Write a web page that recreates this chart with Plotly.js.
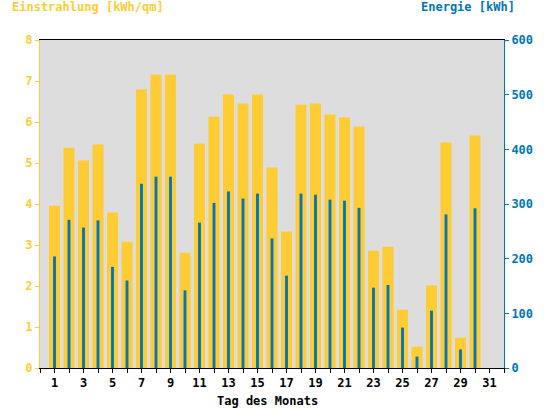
<!DOCTYPE html>
<html>
<head>
<meta charset="utf-8">
<script src="https://cdn.plot.ly/plotly-3.0.1.min.js"></script>
<style>html,body{margin:0;padding:0;background:#fff;}#chart{width:544px;height:408px;}</style>
</head>
<body>
<div id="chart"></div>
<script>
var days = [1,2,3,4,5,6,7,8,9,10,11,12,13,14,15,16,17,18,19,20,21,22,23,24,25,26,27,28,29,30];
var einstrahlung = [3.96,5.37,5.06,5.45,3.79,3.08,6.79,7.15,7.15,2.81,5.47,6.13,6.67,6.45,6.67,4.89,3.33,6.42,6.45,6.18,6.11,5.89,2.86,2.96,1.42,0.52,2.01,5.50,0.74,5.67];
var energie = [204,271,257,270,185,160,337,350,350,142,266,302,323,310,319,237,169,319,317,308,306,293,147,152,74,21,105,281,34,292];
var xTickVals = [0,1,2,3,4,5,6,7,8,9,10,11,12,13,14,15,16,17,18,19,20,21,22,23,24,25,26,27,28,29,30,31,32];
var xTickText = ['','1','','3','','5','','7','','9','','11','','13','','15','','17','','19','','21','','23','','25','','27','','29','','31',''];
var yellow = '#FFCC33';
var blue = '#0077BB';
var fontFam = '"DejaVu Sans Mono", monospace';

var traces = [
  {type:'bar', x:days, y:einstrahlung, yaxis:'y', width:0.76, marker:{color:yellow, line:{width:0}}, hoverinfo:'skip'},
  {type:'bar', x:days, y:energie, yaxis:'y2', width:0.2, marker:{color:blue, line:{width:0}}, hoverinfo:'skip'}
];

var layout = {
  width:544, height:408,
  margin:{l:40, r:40, t:40, b:40, pad:0},
  paper_bgcolor:'#ffffff',
  plot_bgcolor:'#DDDDDD',
  barmode:'overlay',
  showlegend:false,
  font:{family:fontFam, size:12, color:'#000', weight:'bold'},
  xaxis:{
    range:[0,32], tickmode:'array', tickvals:xTickVals, ticktext:xTickText,
    ticks:'outside', ticklen:4, tickcolor:'#000', tickwidth:1,
    showline:true, linecolor:'#000', linewidth:1, mirror:true,
    showgrid:false, zeroline:false,
    tickfont:{family:fontFam, size:12, color:'#000', weight:'bold'}
  },
  yaxis:{
    range:[0,8], dtick:1, tick0:0,
    ticks:'outside', ticklen:4, tickcolor:yellow,
    showline:true, linecolor:yellow, linewidth:1,
    showgrid:false, zeroline:false,
    tickfont:{family:fontFam, size:12, color:yellow, weight:'bold'}
  },
  yaxis2:{
    range:[0,600], dtick:100, tick0:0, overlaying:'y', side:'right',
    ticks:'outside', ticklen:4, tickcolor:blue,
    showline:true, linecolor:blue, linewidth:1,
    showgrid:false, zeroline:false,
    tickfont:{family:fontFam, size:12, color:blue, weight:'bold'}
  },
  annotations:[
    {text:'Einstrahlung [kWh/qm]', xref:'paper', yref:'paper', x:-30/464, y:1+33/328, xanchor:'left', yanchor:'middle', showarrow:false, font:{family:fontFam, size:12, color:yellow, weight:'bold'}},
    {text:'Energie [kWh]', xref:'paper', yref:'paper', x:1+13/464, y:1+33/328, xanchor:'right', yanchor:'middle', showarrow:false, font:{family:fontFam, size:12, color:blue, weight:'bold'}},
    {text:'Tag des Monats', xref:'paper', yref:'paper', x:(267-40)/464, y:-33/328, xanchor:'center', yanchor:'middle', showarrow:false, font:{family:fontFam, size:12, color:'#000', weight:'bold'}}
  ]
};

Plotly.newPlot('chart', traces, layout, {staticPlot:true, displayModeBar:false});
</script>
</body>
</html>
